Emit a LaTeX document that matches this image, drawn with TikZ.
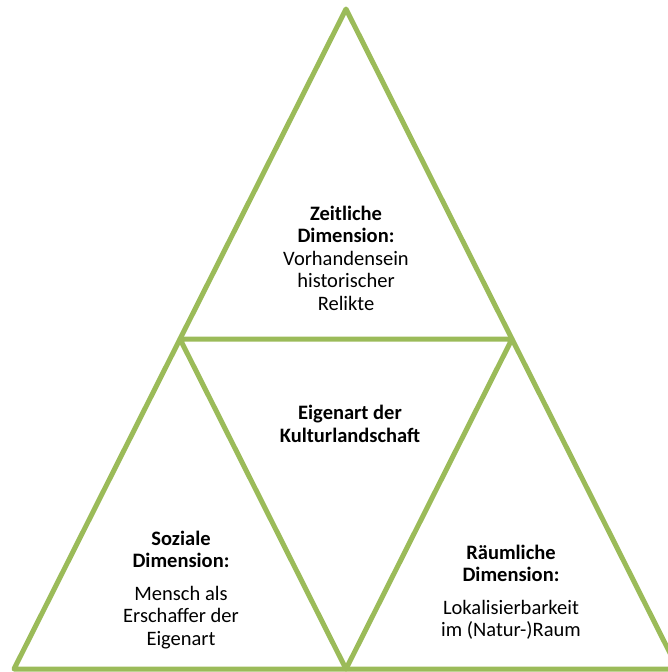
\documentclass[tikz,border=0pt]{standalone}
\usepackage{fontspec}
\setmainfont{Carlito}
\usepackage{xcolor}
\definecolor{olivegreen}{HTML}{9BBB59}

\begin{document}
\begin{tikzpicture}[x=1pt, y=-1pt,
    edge/.style={draw=olivegreen, line width=5pt, line join=round},
    label/.style={align=center, font=\fontsize{20.5}{22.5}\selectfont, inner sep=0pt}]
      \useasboundingbox (0,0) rectangle (667,672);

      % Corners
      \coordinate (apex) at (346,9);
      \coordinate (bl) at (14,669);
      \coordinate (bm) at (346,669);
      \coordinate (br) at (678,669);
      \coordinate (ml) at (180,339);
      \coordinate (mr) at (512,339);

      % Triangles
      \draw[edge] (apex) -- (bl) -- (br) -- cycle;
      \draw[edge] (ml) -- (mr) -- (bm) -- cycle;

      % Labels
      \node[label] (zeit) at (346,258) {\textbf{Zeitliche}\\\textbf{Dimension:}\\Vorhandensein\\historischer\\Relikte};
      \node[label] (eigen) at (350,424) {\textbf{Eigenart der}\\\textbf{Kulturlandschaft}};
      \node[label] (sozial) at (181,590) {\textbf{Soziale}\\\textbf{Dimension:}\\[10pt]Mensch als\\Erschaffer der\\Eigenart};
      \node[label] (raum) at (511,592) {\textbf{Räumliche}\\\textbf{Dimension:}\\[10pt]Lokalisierbarkeit\\im (Natur-)Raum};
    \end{tikzpicture}
\end{document}
